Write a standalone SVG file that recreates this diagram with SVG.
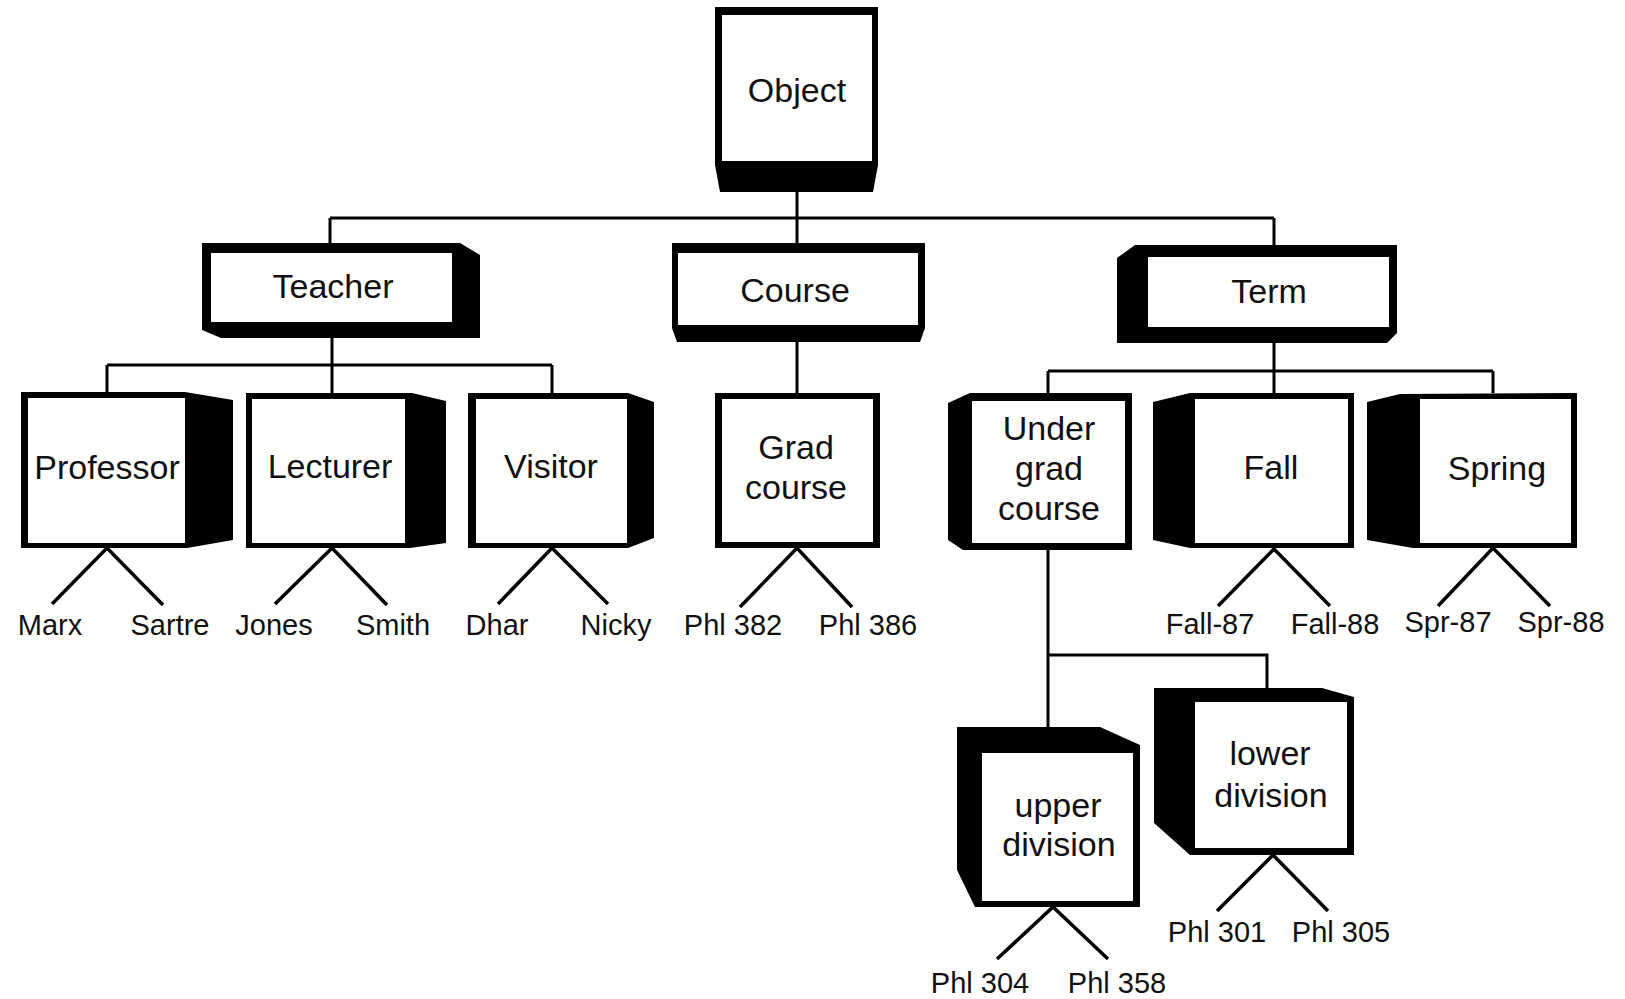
<svg xmlns="http://www.w3.org/2000/svg" width="1625" height="999" viewBox="0 0 1625 999">
<style>
.box{fill:#000}
.face{fill:#fff}
.lbl{font-family:"Liberation Sans",Arial,sans-serif;font-size:34px;fill:#111;text-anchor:middle}
.leaf{font-family:"Liberation Sans",Arial,sans-serif;font-size:29px;fill:#111;text-anchor:middle}
.con{stroke:#000;stroke-width:3;fill:none}
.fan{stroke:#000;stroke-width:3.5;fill:none}
</style>
<rect width="1625" height="999" fill="#fff"/>
<g id="connectors">
<path class="con" d="M797 192V218M330 218H1274M330 218V243M797 218V243M1274 218V245"/>
<path class="con" d="M332 338V365M107 365H552M107 365V392M332 365V393M552 365V393"/>
<path class="con" d="M797 342V393"/>
<path class="con" d="M1274 343V371M1048 371H1493M1048 371V393M1274 371V393M1493 371V393"/>
<path class="con" d="M1048 550V727M1048 655H1267V688"/>
<path class="fan" d="M52 604L107 548L163 605"/>
<path class="fan" d="M275 604L332 548L387 605"/>
<path class="fan" d="M498 604L552 548L608 604"/>
<path class="fan" d="M740 607L797 548L852 607"/>
<path class="fan" d="M1218 606L1274 549L1330 606"/>
<path class="fan" d="M1438 606L1493 548L1550 606"/>
<path class="fan" d="M997 959L1053 907L1108 959"/>
<path class="fan" d="M1217 911L1273 855L1328 911"/>
</g>
<g id="object">
<polygon class="box" points="715,7 878,7 878,165 873,192 720,192 715,165"/>
<rect class="face" x="722" y="15" width="150" height="146"/>
<text class="lbl" x="797" y="102">Object</text>
</g>
<g id="teacher">
<polygon class="box" points="202,243 460,243 480,255 480,338 221,338 202,330"/>
<rect class="face" x="211" y="253" width="241" height="69"/>
<text class="lbl" x="333" y="298">Teacher</text>
</g>
<g id="course">
<polygon class="box" points="672,243 925,243 925,328 920,342 677,342 672,328"/>
<rect class="face" x="678" y="253" width="240" height="72"/>
<text class="lbl" x="795" y="302">Course</text>
</g>
<g id="term">
<polygon class="box" points="1117,258 1135,245 1397,245 1397,333 1387,343 1117,343"/>
<rect class="face" x="1148" y="257" width="241" height="70"/>
<text class="lbl" x="1269" y="303">Term</text>
</g>
<g id="professor">
<polygon class="box" points="21,392 185,392 233,400 233,540 187,548 21,548"/>
<rect class="face" x="28" y="398" width="157" height="145"/>
<text class="lbl" x="107" y="479">Professor</text>
</g>
<g id="lecturer">
<polygon class="box" points="246,393 412,393 446,401 446,543 410,548 246,548"/>
<rect class="face" x="252" y="399" width="153" height="144"/>
<text class="lbl" x="330" y="478">Lecturer</text>
</g>
<g id="visitor">
<polygon class="box" points="468,393 628,393 654,402 654,538 628,548 468,548"/>
<rect class="face" x="476" y="399" width="151" height="144"/>
<text class="lbl" x="551" y="478">Visitor</text>
</g>
<g id="grad-course">
<rect class="box" x="715" y="393" width="165" height="155"/>
<rect class="face" x="722" y="399" width="151" height="143"/>
<text class="lbl" x="796" y="459">Grad</text>
<text class="lbl" x="796" y="499">course</text>
</g>
<g id="undergrad-course">
<polygon class="box" points="948,403 970,393 1132,393 1132,550 963,550 948,540"/>
<rect class="face" x="972" y="401" width="153" height="142"/>
<text class="lbl" x="1049" y="440">Under</text>
<text class="lbl" x="1049" y="480">grad</text>
<text class="lbl" x="1049" y="520">course</text>
</g>
<g id="fall">
<polygon class="box" points="1153,402 1190,393 1354,393 1354,548 1190,548 1153,540"/>
<rect class="face" x="1195" y="399" width="153" height="144"/>
<text class="lbl" x="1271" y="479">Fall</text>
</g>
<g id="spring">
<polygon class="box" points="1367,402 1400,394 1577,393 1577,548 1413,548 1367,540"/>
<rect class="face" x="1420" y="399" width="151" height="144"/>
<text class="lbl" x="1497" y="480">Spring</text>
</g>
<g id="upper-division">
<polygon class="box" points="957,727 1100,727 1140,745 1140,907 975,907 957,870"/>
<rect class="face" x="982" y="753" width="151" height="148"/>
<text class="lbl" x="1058" y="817">upper</text>
<text class="lbl" x="1059" y="856">division</text>
</g>
<g id="lower-division">
<polygon class="box" points="1154,688 1322,688 1354,697 1354,855 1190,855 1154,823"/>
<rect class="face" x="1195" y="702" width="152" height="146"/>
<text class="lbl" x="1270" y="765">lower</text>
<text class="lbl" x="1271" y="807">division</text>
</g>
<g id="leaves">
<text class="leaf" x="50" y="635">Marx</text>
<text class="leaf" x="170" y="635">Sartre</text>
<text class="leaf" x="274" y="635">Jones</text>
<text class="leaf" x="393" y="635">Smith</text>
<text class="leaf" x="497" y="635">Dhar</text>
<text class="leaf" x="616" y="635">Nicky</text>
<text class="leaf" x="733" y="635">Phl 382</text>
<text class="leaf" x="868" y="635">Phl 386</text>
<text class="leaf" x="1210" y="634">Fall-87</text>
<text class="leaf" x="1335" y="634">Fall-88</text>
<text class="leaf" x="1448" y="632">Spr-87</text>
<text class="leaf" x="1561" y="632">Spr-88</text>
<text class="leaf" x="980" y="993">Phl 304</text>
<text class="leaf" x="1117" y="993">Phl 358</text>
<text class="leaf" x="1217" y="942">Phl 301</text>
<text class="leaf" x="1341" y="942">Phl 305</text>
</g>
</svg>
